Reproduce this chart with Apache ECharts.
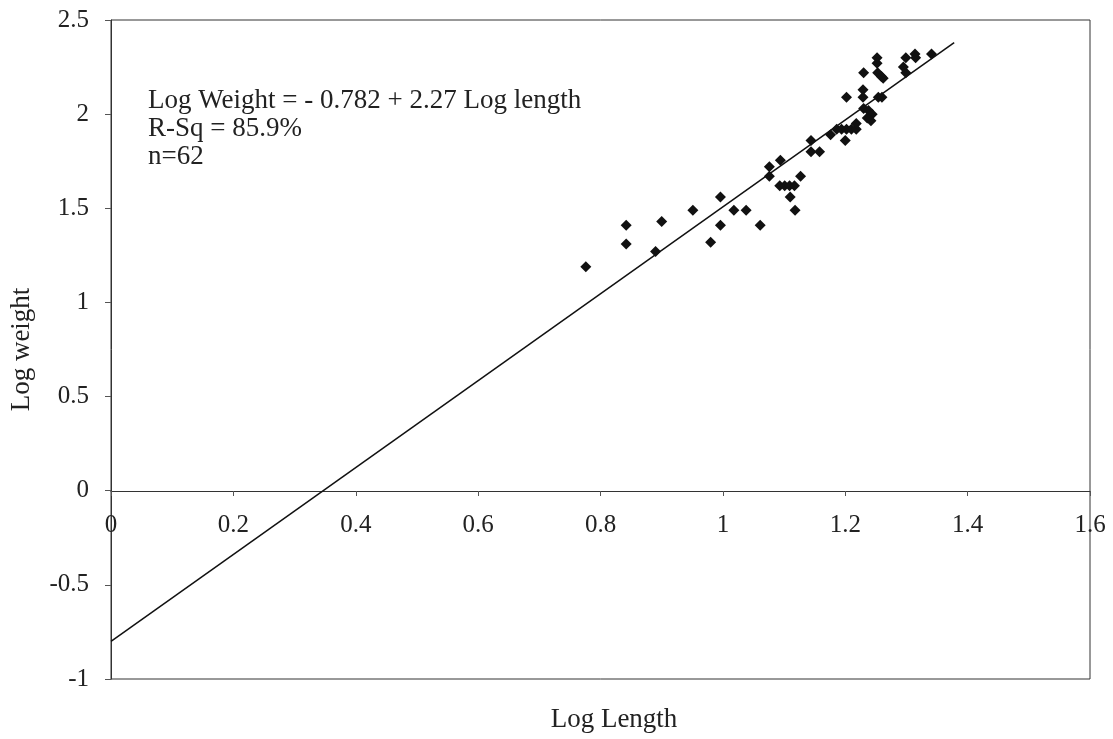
<!DOCTYPE html>
<html>
<head>
<meta charset="utf-8">
<script src="https://cdn.jsdelivr.net/npm/echarts@6/dist/echarts.min.js"></script>
<style>html,body{margin:0;padding:0;background:#fff;}#c{width:1113px;height:739px;}</style>
</head>
<body>
<div id="c"></div>
<script>
// Observed data (log length, log weight)
var logLength = [0.776,0.842,0.842,0.890,0.900,0.951,0.996,0.996,1.018,1.038,0.980,1.061,1.076,1.076,1.094,1.093,1.101,1.109,1.117,1.110,1.118,1.127,1.144,1.144,1.158,1.176,1.200,1.186,1.194,1.202,1.210,1.218,1.218,1.230,1.238,1.244,1.242,1.236,1.202,1.229,1.229,1.254,1.260,1.230,1.252,1.252,1.253,1.259,1.262,1.299,1.314,1.315,1.295,1.299,1.341];
var logWeight = [1.19,1.41,1.31,1.27,1.43,1.49,1.56,1.41,1.49,1.49,1.32,1.41,1.72,1.67,1.755,1.62,1.62,1.62,1.62,1.56,1.49,1.67,1.86,1.80,1.80,1.89,1.86,1.92,1.92,1.92,1.92,1.92,1.95,2.03,2.02,2.00,1.965,1.98,2.09,2.13,2.09,2.09,2.09,2.22,2.30,2.27,2.22,2.20,2.19,2.30,2.32,2.30,2.25,2.22,2.32];
// Fitted regression line endpoints as drawn
var fitX = [0, 1.378];
var fitY = [-0.80, 2.38];
var xTicks = [0,0.2,0.4,0.6,0.8,1,1.2,1.4,1.6];
var yTicks = [-1,-0.5,0,0.5,1,1.5,2,2.5];
var annotation = ["Log Weight = - 0.782 + 2.27 Log length", "R-Sq = 85.9%", "n=62"];
var xName = "Log Length";
var yName = "Log weight";

var pts = logLength.map(function(x,i){return [x, logWeight[i]];});
var fitLine = fitX.map(function(x,i){return [x, fitY[i]];});
var font = "'Liberation Serif','DejaVu Serif',serif";

var chart = echarts.init(document.getElementById('c'));
chart.setOption({
  animation:false,
  backgroundColor:'#fff',
  grid:{left:110, right:23, top:20, bottom:60, show:true, borderColor:'#333', borderWidth:1},
  xAxis:{type:'value', min:xTicks[0], max:xTicks[xTicks.length-1], interval:0.2,
    offset:-188,
    axisLine:{onZero:false, lineStyle:{color:'#333', width:1}},
    axisTick:{show:true, inside:false, length:5, lineStyle:{color:'#555'}},
    axisLabel:{margin:22, color:'#222', fontFamily:font, fontSize:25},
    splitLine:{show:false}},
  yAxis:{type:'value', min:yTicks[0], max:yTicks[yTicks.length-1], interval:0.5,
    axisLine:{show:true, lineStyle:{color:'#333', width:1}},
    axisTick:{show:true, length:6, lineStyle:{color:'#555'}},
    axisLabel:{margin:22, color:'#222', fontFamily:font, fontSize:25},
    splitLine:{show:false},
    name:yName, nameLocation:'middle', nameGap:76, nameRotate:90,
    nameTextStyle:{color:'#222', fontFamily:font, fontSize:27}},
  graphic:[
    {type:'text', x:614, y:720, style:{text:xName, fill:'#222', font:'27px '+font, textAlign:'center', textVerticalAlign:'middle'}},
    {type:'text', x:148, y:87, style:{text:annotation.join('\n'), fill:'#222', font:'27px '+font, lineHeight:28, textVerticalAlign:'top'}}
  ],
  series:[
    {type:'line', data:fitLine, symbol:'none', lineStyle:{color:'#111', width:1.5}, z:2},
    {type:'scatter', data:pts, symbol:'diamond', symbolSize:11, itemStyle:{color:'#111', opacity:1}, z:3}
  ]
});
</script>
</body>
</html>
